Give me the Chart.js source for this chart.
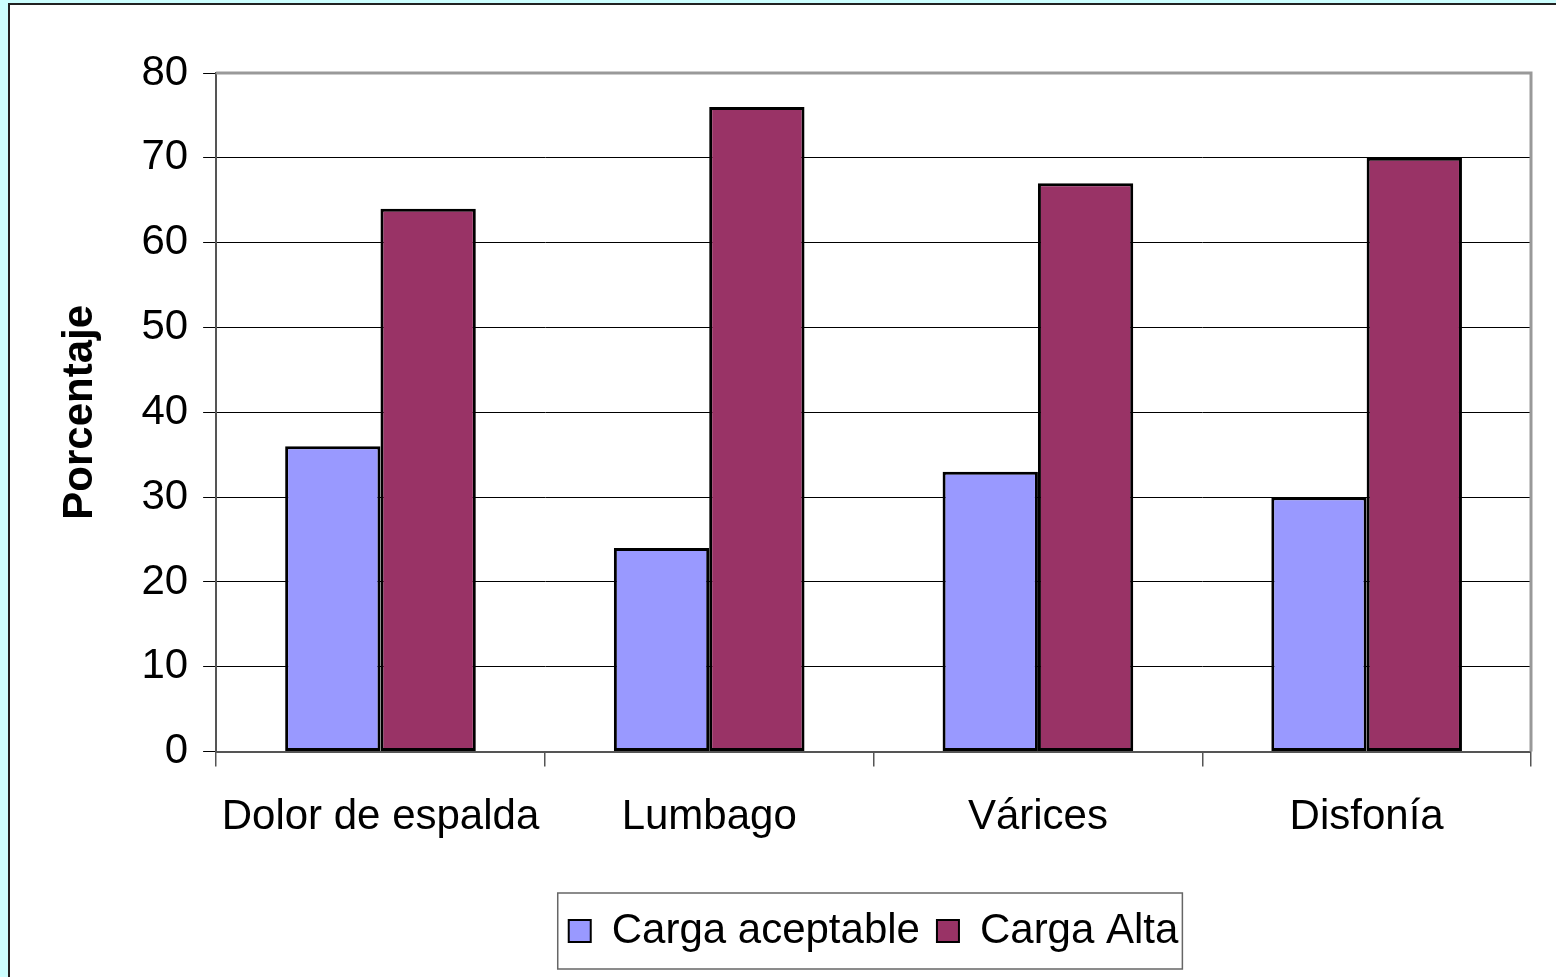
<!DOCTYPE html>
<html>
<head>
<meta charset="utf-8">
<script src="https://cdn.jsdelivr.net/npm/chart.js@4/dist/chart.umd.min.js"></script>
<style>
  html, body { margin: 0; padding: 0; background: #ccffff; overflow: hidden; }
  #marco {
    position: absolute; left: 8px; top: 3px;
    width: 1560px; height: 990px;
    background: #ffffff;
    border-left: 2px solid #222; border-top: 2px solid #222;
  }
  #grafico { position: absolute; left: 0; top: 0; }
</style>
</head>
<body>
<div id="marco"><canvas id="grafico" width="1546" height="972"></canvas></div>
<script>
// Datos del gráfico
const categorias = ['Dolor de espalda', 'Lumbago', 'Várices', 'Disfonía'];
const cargaAceptable = [36, 24, 33, 30];
const cargaAlta = [64, 76, 67, 70];
const ticksY = [0, 10, 20, 30, 40, 50, 60, 70, 80];

const fuente = "'Liberation Sans', Arial, sans-serif";

// Borde del área de trazado y recuadro de la leyenda
const bordes = {
    id: 'bordes',
    afterDraw(chart) {
        const ctx = chart.ctx;
        const a = chart.chartArea;
        ctx.save();
        ctx.strokeStyle = '#999999';
        ctx.lineWidth = 3;
        ctx.beginPath();
        ctx.moveTo(a.left, a.top);
        ctx.lineTo(a.right, a.top);
        ctx.lineTo(a.right, a.bottom);
        ctx.stroke();

        const cajas = chart.legend.legendHitBoxes;
        if (cajas && cajas.length) {
            const izq = Math.min(...cajas.map(c => c.left)) - 11;
            const der = Math.max(...cajas.map(c => c.left + c.width)) + 4;
            const centro = cajas[0].top + cajas[0].height / 2;
            ctx.strokeStyle = '#666666';
            ctx.lineWidth = 1.5;
            ctx.strokeRect(izq, centro - 38, der - izq, 76);
        }
        ctx.restore();
    }
};

const ctx = document.getElementById('grafico').getContext('2d');

const grafico = new Chart(ctx, {
    type: 'bar',
    data: {
        labels: categorias,
        datasets: [{
            label: 'Carga aceptable',
            data: cargaAceptable,
            backgroundColor: '#9999ff',
            borderColor: '#000000',
            borderWidth: 3,
            borderSkipped: false
        }, {
            label: 'Carga Alta',
            data: cargaAlta,
            backgroundColor: '#993366',
            borderColor: '#000000',
            borderWidth: 3,
            borderSkipped: false
        }]
    },
    options: {
        responsive: false,
        animation: false,
        events: [],
        categoryPercentage: 0.58,
        barPercentage: 1.0,
        layout: {
            padding: { left: 45, right: 25, top: 68, bottom: 15 }
        },
        plugins: {
            tooltip: { enabled: false },
            legend: {
                position: 'bottom',
                fullSize: false,
                labels: {
                    color: '#000000',
                    font: { family: fuente, size: 42 },
                    boxWidth: 22,
                    boxHeight: 22,
                    padding: 17,
                    generateLabels(chart) {
                        return chart.data.datasets.map((d, i) => ({
                            text: d.label,
                            fillStyle: d.backgroundColor,
                            strokeStyle: '#000000',
                            lineWidth: 2,
                            datasetIndex: i,
                            hidden: false
                        }));
                    }
                }
            }
        },
        scales: {
            x: {
                grid: {
                    offset: true,
                    drawOnChartArea: false,
                    color: '#555555',
                    tickLength: 15,
                    lineWidth: 1.5
                },
                border: { color: '#555555', width: 2 },
                ticks: {
                    color: '#000000',
                    font: { family: fuente, size: 42 },
                    padding: 26,
                    maxRotation: 0
                },
                afterFit(scale) {
                    scale.height += 24;
                }
            },
            y: {
                min: 0,
                max: 80,
                afterBuildTicks(scale) {
                    scale.ticks = ticksY.map(v => ({ value: v }));
                },
                grid: {
                    color: '#000000',
                    lineWidth: 1,
                    tickLength: 13
                },
                border: { color: '#555555', width: 2 },
                ticks: {
                    color: '#000000',
                    font: { family: fuente, size: 42 },
                    padding: 15
                },
                title: {
                    display: true,
                    text: 'Porcentaje',
                    color: '#000000',
                    font: { family: fuente, size: 42, weight: 'bold', lineHeight: 1.2 },
                    padding: { top: 0, bottom: 21 }
                }
            }
        }
    },
    plugins: [bordes]
});
</script>
</body>
</html>
